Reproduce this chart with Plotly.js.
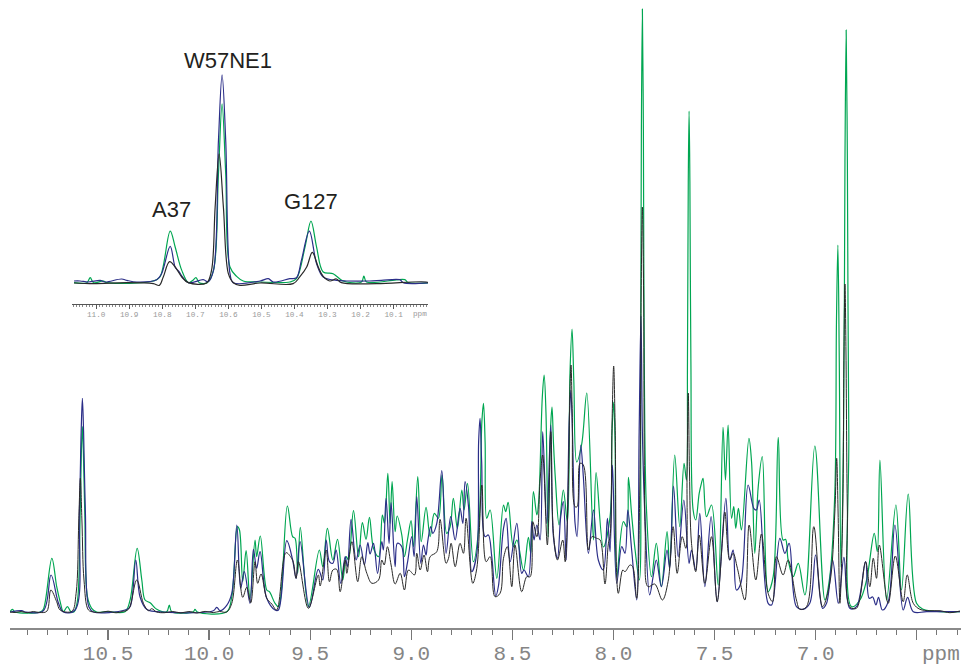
<!DOCTYPE html>
<html><head><meta charset="utf-8">
<script src="https://cdn.plot.ly/plotly-3.0.1.min.js"></script>
<style>html,body{margin:0;padding:0;background:#fff}</style></head>
<body><div id="chart" style="width:961px;height:666px"></div>
<script>
// [ppm, intensity]
const greenSpectrum=[[10.985,0],[10.973,2.7],[10.960,0],[10.836,0],[10.820,2.7],[10.778,53.7],[10.754,25.3],[10.737,10.3],[10.721,0.3],[10.701,5.3],[10.684,.3],[10.668,.3],[10.652,10.3],[10.638,98.7],[10.632,160],[10.627,185.3],[10.622,160],[10.615,98.7],[10.602,15.3],[10.581,3.7],[10.556,0],[10.506,.3],[10.416,.3],[10.391,12],[10.356,63.7],[10.333,32],[10.317,12],[10.292,9.3],[10.259,2.7],[10.210,.3],[10.197,7],[10.185,.3],[10.078,.3],[10.070,2.7],[10.058,0],[9.913,.3],[9.888,15.3],[9.860,85.3],[9.850,82],[9.834,30.3],[9.817,61.3],[9.798,13.7],[9.773,72],[9.765,55.3],[9.747,76],[9.715,22],[9.702,20.3],[9.674,8.7],[9.657,5.3],[9.613,106],[9.587,75.3],[9.575,73.7],[9.562,38.7],[9.549,84.7],[9.509,5.3],[9.455,62],
[9.438,45.3],[9.415,83.7],[9.388,52],[9.365,72.7],[9.339,32],[9.322,55.3],[9.311,52],[9.286,101.3],[9.261,55.3],[9.242,89.3],[9.224,72.7],[9.207,94.7],[9.187,63.7],[9.162,55.3],[9.143,97],[9.133,88.7],[9.116,138.7],[9.105,88.7],[9.095,130.3],[9.080,80.3],[9.070,96],[9.047,77],[9.034,55.3],[9.019,72],[9.001,91.3],[8.989,65.3],[8.968,135.3],[8.951,70.3],[8.927,104.7],[8.907,75.3],[8.886,98.7],[8.866,93.7],[8.848,137],[8.825,78.7],[8.808,85.3],[8.792,113.7],[8.772,83.7],[8.750,122],[8.739,102],[8.722,128.7],[8.693,50.3],[8.666,85.3],[8.651,190],[8.643,208.7],[8.635,170],[8.627,93.7],[8.610,102],[8.577,33.7],[8.544,107],[8.533,100.3],[8.521,109.7],[8.495,65.3],[8.478,72],[8.445,42],[8.421,74.7],[8.409,58.7],[8.396,120.3],[8.379,97],[8.370,110.3],[8.352,215],[8.343,237],[8.334,200],[8.323,75],[8.311,185],[8.304,205],[8.297,170],[8.287,132],[8.269,87],[8.248,122],[8.228,90],[8.215,240],[8.205,283],[8.196,230],[8.182,150],[8.157,168],[8.132,219],[8.099,72],[8.086,139.3],[8.050,65],[8.017,95],[8.007,180],[7.999,210],[7.992,170],[7.984,35],[7.951,90.3],[7.934,85],[7.926,134.7],[7.910,97],[7.893,62],[7.872,32],
[7.866,230],[7.862,480],[7.857,603],[7.852,480],[7.847,230],[7.837,103.7],[7.812,35.3],[7.788,68.7],[7.763,25.3],[7.735,80.3],[7.722,45.3],[7.697,157],[7.672,85.3],[7.651,148.7],[7.639,132],[7.634,250],[7.630,430],[7.626,501],[7.622,430],[7.617,250],[7.606,102],[7.593,92],[7.576,118.7],[7.565,128.7],[7.557,133.7],[7.540,95.3],[7.515,107],[7.482,27],[7.458,184.7],[7.446,132],[7.433,187],[7.416,93.7],[7.405,105.3],[7.395,83.7],[7.382,103.7],[7.367,82],[7.330,173.7],[7.317,150.3],[7.301,58.7],[7.284,125.3],[7.264,155.3],[7.235,20.3],[7.210,35.3],[7.185,174.7],[7.161,72],[7.149,72.7],[7.136,52],[7.111,35.3],[7.086,48.7],[7.053,17],[7.004,166],[6.954,12],[6.930,35.3],[6.905,120],[6.897,290],[6.890,367],[6.883,250],[6.875,45],[6.862,180],[6.855,450],[6.849,582],[6.843,450],[6.836,180],[6.822,5.3],[6.781,12],[6.748,32],[6.710,78.7],[6.695,60.3],[6.682,152],[6.649,12],[6.603,107],[6.575,22],[6.542,118],[6.501,8.7],[6.468,2.7],[6.385,.3],[6.286,.3]];
const blueSpectrum=[[10.985,0],[10.927,1.3],[10.910,0],[10.820,1.3],[10.782,37],[10.745,8.7],[10.721,0],[10.663,2],[10.642,98.7],[10.633,180],[10.627,213.7],[10.621,180],[10.612,98.7],[10.595,5.3],[10.572,0],[10.416,2],[10.391,5.3],[10.363,52],[10.342,15.3],[10.309,2.7],[10.259,.3],[9.979,1.3],[9.962,4.7],[9.946,1.3],[9.913,6.7],[9.888,18.7],[9.863,87],[9.844,23.7],[9.826,40.3],[9.798,8.7],[9.781,62.7],[9.765,43.7],[9.748,60.3],[9.715,13.7],[9.674,2],[9.657,2],[9.616,71.3],[9.587,52],[9.570,33.7],[9.550,70.3],[9.504,4.7],[9.460,42.7],
[9.438,32],[9.421,72],[9.405,50.3],[9.388,48.7],[9.372,62],[9.349,28.7],[9.327,55.3],[9.316,45.3],[9.298,92.7],[9.273,52],[9.253,67],[9.232,47],[9.215,69.3],[9.204,58],[9.187,68.7],[9.167,38.7],[9.146,70.3],[9.138,62],[9.125,113.7],[9.110,68.7],[9.100,109.3],[9.080,45.3],[9.069,68.7],[9.047,65.3],[9.034,35.3],[9.019,49.3],[8.998,75.3],[8.986,55.3],[8.973,115.3],[8.953,48.7],[8.940,67],[8.927,57],[8.920,68.7],[8.904,85.3],[8.894,78.7],[8.874,88.7],[8.849,141.3],[8.828,58.7],[8.805,95.3],[8.783,72],[8.759,103.7],[8.745,88.7],[8.734,130.3],[8.717,105.3],[8.701,40.3],[8.676,58.7],[8.667,170],[8.660,193.7],[8.652,150],[8.635,75.3],[8.619,77],[8.602,55.3],[8.582,16],[8.569,26],[8.544,83.7],[8.531,93.7],[8.511,50.3],[8.478,88.7],[8.454,38.7],[8.442,42],[8.421,35.3],[8.404,90.3],[8.393,72],[8.379,87],[8.363,72],[8.350,180.3],[8.330,88.7],[8.310,187],[8.297,75.3],[8.277,53.7],[8.261,95.3],[8.248,110.3],[8.234,52],[8.219,190],[8.211,222],[8.203,180],[8.190,88.7],[8.180,75.3],[8.162,167],[8.149,135.3],[8.124,58.7],[8.099,102],[8.075,52],[8.050,42],[8.030,93.7],[8.017,60.3],[8.005,147],[7.984,28.7],[7.959,65.3],[7.943,58.7],[7.929,102],[7.910,62],[7.885,12],
[7.873,180],[7.864,296],[7.857,180],[7.845,98.7],[7.821,17],[7.804,35.3],[7.788,52],[7.763,25.3],[7.735,62],[7.722,43.7],[7.703,126],[7.680,55.3],[7.652,112],[7.626,48.7],[7.614,62],[7.593,42],[7.573,98.7],[7.548,25.3],[7.517,95.3],[7.487,10.3],[7.444,113.7],[7.425,52],[7.408,62],[7.392,22],[7.370,28.7],[7.334,127],[7.306,103.7],[7.293,102],[7.279,112],[7.235,8.7],[7.218,7],[7.177,73.7],[7.152,58.7],[7.131,68.7],[7.095,5.3],[7.062,2.7],[7.029,8.7],[7.000,57],[6.966,3.7],[6.946,8.7],[6.916,52],[6.888,8.7],[6.860,54.7],[6.831,3.7],[6.798,5.3],[6.753,50.3],[6.735,13.7],[6.718,15],[6.702,7],[6.689,14.7],[6.670,2],[6.641,10.3],[6.608,87],[6.567,2],[6.545,14.7],[6.517,.3],[6.451,.3],[6.286,.3]];
const blackSpectrum=[[10.985,0],[10.96,-.5],[10.93,.5],[10.9,-.7],[10.87,.5],[10.84,-.5],[10.803,.7],[10.783,22],[10.754,10.3],[10.737,2],[10.679,.7],[10.658,18.7],[10.645,90],[10.637,133.7],[10.629,90],[10.619,32],[10.597,2],[10.572,0],[10.54,-.5],[10.5,.8],[10.46,-.8],[10.43,.5],[10.399,2.7],[10.358,32],[10.325,8.7],[10.300,1.3],[10.284,3.3],[10.259,0],[10.22,-.7],[10.18,.5],[10.14,-.9],[10.1,.5],[10.06,-1],[10.02,.6],[9.98,-.6],[9.95,.5],[9.913,0],[9.888,8.7],[9.860,52],[9.834,14.7],[9.814,24.7],[9.794,9.3],[9.773,50.3],[9.760,28.7],[9.743,38],[9.715,13.7],[9.690,8],[9.666,2],[9.620,59.3],[9.592,53.7],[9.583,49.3],[9.570,33.7],[9.558,50.3],[9.509,3.7],[9.460,37],[9.451,26],
[9.421,62],[9.405,30.3],[9.388,42],[9.369,42.7],[9.352,20.3],[9.327,52],[9.319,38.7],[9.294,70.3],[9.265,30.3],[9.245,55.3],[9.220,38.7],[9.195,28.7],[9.162,32],[9.146,52],[9.134,47],[9.118,65.3],[9.100,47],[9.080,28],[9.055,38.7],[9.034,22],[9.014,42],[8.984,37],[8.973,58.7],[8.956,42],[8.937,57],[8.920,40.3],[8.907,55.3],[8.874,60.3],[8.858,92.7],[8.828,48.7],[8.816,53.7],[8.803,68.7],[8.783,45.3],[8.759,68.7],[8.742,58.7],[8.729,93.7],[8.696,28.7],[8.676,43.7],[8.651,127],[8.630,50.3],[8.610,55.3],[8.586,15.3],[8.561,18.7],[8.544,53.7],[8.525,65.3],[8.503,25.3],[8.487,67],[8.454,20.3],[8.429,35.3],[8.412,35.3],[8.399,90.3],[8.379,75.3],[8.363,132],[8.350,157],[8.327,67],[8.310,180.3],[8.297,78.7],[8.277,52],[8.251,72],[8.239,50.3],[8.223,132],[8.216,215],[8.210,247],[8.204,200],[8.190,105.3],[8.180,105.3],[8.165,148.7],[8.149,147],[8.124,62],[8.107,75.3],[8.083,73.7],[8.066,72],[8.042,28],[8.025,68.7],[8.017,75.3],[8.007,190],[7.999,246],[7.992,190],[7.976,18.7],[7.954,42],[7.943,40.3],[7.918,47],[7.905,45.3],[7.885,13.7],
[7.870,120],[7.863,320],[7.857,405],[7.851,320],[7.843,80],[7.829,25.3],[7.796,28],[7.758,12],[7.730,30.3],[7.705,85.3],[7.685,38.7],[7.660,75.3],[7.642,63.7],[7.636,140],[7.630,219],[7.624,140],[7.614,68.7],[7.593,40.3],[7.576,77],[7.548,28.7],[7.515,75.3],[7.487,10.3],[7.461,72],[7.449,100],[7.425,52],[7.408,58.7],[7.387,43.7],[7.350,12],[7.329,87],[7.296,32],[7.268,78],[7.235,18.7],[7.213,10.3],[7.194,55.3],[7.161,37],[7.136,52],[7.095,12],[7.078,2.7],[7.045,5.3],[7.009,85.3],[6.966,5.3],[6.930,28.7],[6.905,100],[6.896,153.7],[6.889,100],[6.880,8.7],[6.866,100],[6.860,260],[6.855,328],[6.850,260],[6.843,100],[6.831,5.3],[6.798,3.7],[6.753,50.3],[6.732,25.3],[6.715,53.7],[6.699,33.7],[6.685,67],[6.641,8.7],[6.606,56],[6.567,10.3],[6.547,37],[6.517,8.7],[6.484,2.7],[6.435,1.3],[6.385,1.3],[6.336,-.7],[6.286,1]];
const greenInset=[[11.067,0],[11.028,0],[11.018,5],[11.008,0],[10.978,1.7],[10.968,0],[10.827,1.7],[10.807,5.7],[10.776,51.7],[10.761,35.7],[10.741,12.3],[10.721,0],[10.708,2.3],[10.698,5],[10.688,0],[10.664,0],[10.645,12.3],[10.630,109],[10.619,179],[10.608,109],[10.595,15.7],[10.575,6.3],[10.555,1.7],[10.504,.7],[10.414,.7],[10.394,4],[10.368,35.7],[10.350,61.7],[10.333,35.7],[10.313,10.7],[10.283,9],[10.253,1.7],[10.197,.7],[10.190,6.7],[10.182,.7],[10.066,3],[10.056,0],[9.991,0]];
const blueInset=[[11.067,1.7],[11.049,1.7],[11.023,.7],[10.988,2.3],[10.973,.7],[10.923,3.7],[10.907,2.3],[10.877,.7],[10.817,3],[10.802,9],[10.776,36.3],[10.761,15.7],[10.751,11.7],[10.721,0],[10.676,3],[10.661,1],[10.645,12.3],[10.630,142.3],[10.619,208],[10.608,142.3],[10.595,9],[10.585,0],[10.504,1.7],[10.479,4],[10.464,.7],[10.414,4],[10.394,5],[10.379,22.3],[10.355,51.7],[10.333,19],[10.313,5.7],[10.273,2.3],[10.242,1.7],[10.172,1.7],[10.137,2.3],[10.081,3],[10.071,0],[9.991,0]];
const blackInset=[[11.067,-.3],[11.008,-1],[10.907,0],[10.827,-1],[10.809,-2.7],[10.797,5.7],[10.778,21],[10.761,15.7],[10.741,5.7],[10.721,0],[10.666,-.3],[10.651,12.3],[10.640,75.7],[10.628,129],[10.615,75.7],[10.600,9],[10.585,0],[10.565,-2.7],[10.504,-.3],[10.404,-1],[10.384,5.7],[10.363,15.7],[10.346,30.3],[10.328,15.7],[10.313,6.3],[10.293,1.7],[10.273,3.7],[10.258,0],[10.151,-1],[10.001,.7],[9.986,-1]];
const mainTicks=[10.5,10,9.5,9,8.5,8,7.5,7,6.5];
const mainLabels=['10.5','10.0','9.5','9.0','8.5','8.0','7.5','7.0',''];
const insetTicks=[11,10.9,10.8,10.7,10.6,10.5,10.4,10.3,10.2,10.1];
const insetLabels=['11.0','10.9','10.8','10.7','10.6','10.5','10.4','10.3','10.2','10.1'];
const GREEN='#00a651',BLUE='#2b2e88',BLACK='#2a2a2a';
function tr(d,c,w,xa,ya){return {x:d.map(p=>p[0]),y:d.map(p=>p[1]),type:'scatter',mode:'lines',
 line:{color:c,width:w,shape:'spline',smoothing:1.0},xaxis:xa,yaxis:ya,hoverinfo:'skip',showlegend:false};}
const data=[tr(greenSpectrum,GREEN,1.2,'x','y'),tr(blueSpectrum,BLUE,1.2,'x','y'),tr(blackSpectrum,BLACK,1,'x','y'),
 tr(greenInset,GREEN,1.2,'x2','y2'),tr(blueInset,BLUE,1.2,'x2','y2'),tr(blackInset,BLACK,1.2,'x2','y2')];
const lab={family:'"Liberation Sans",Arial,sans-serif',size:22,color:'#231f20'};
const layout={width:961,height:666,margin:{l:10,r:0,t:0,b:38,pad:0},paper_bgcolor:'#fff',plot_bgcolor:'rgba(0,0,0,0)',showlegend:false,
 xaxis:{range:[10.985,6.281],domain:[0,1],anchor:'y',showgrid:false,zeroline:false,showline:true,linecolor:'#8a8a8a',linewidth:2,
  tickmode:'array',tickvals:mainTicks,ticktext:mainLabels,ticks:'outside',ticklen:10,tickwidth:1.3,tickcolor:'#777',ticklabelstandoff:-5,
  tickfont:{family:'"Liberation Mono",monospace',size:21,color:'#858585'},
  minor:{dtick:0.1,tick0:0,ticks:'outside',ticklen:5,tickwidth:1,tickcolor:'#777',showgrid:false}},
 yaxis:{range:[-16,612],domain:[0,1],anchor:'x',visible:false,fixedrange:true},
 xaxis2:{range:[11.074,9.996],domain:[0.0649,0.4395],anchor:'y2',showgrid:false,zeroline:false,showline:true,linecolor:'#555',linewidth:1,
  tickmode:'array',tickvals:insetTicks,ticktext:insetLabels,ticks:'outside',ticklen:4,tickwidth:1,tickcolor:'#555',ticklabelstandoff:-1,
  tickfont:{family:'"Liberation Mono",monospace',size:7.7,color:'#999'},
  minor:{dtick:0.01,tick0:0,ticks:'outside',ticklen:2,tickwidth:.7,tickcolor:'#555',showgrid:false}},
 yaxis2:{range:[-21.3,222.7],domain:[0.516,0.904],anchor:'x2',visible:false,fixedrange:true},
 annotations:[
  {text:'W57NE1',xref:'x2',yref:'y2',x:10.601,y:222.7,showarrow:false,font:lab,xanchor:'center',yanchor:'middle'},
  {text:'A37',xref:'x2',yref:'y2',x:10.773,y:73.7,showarrow:false,font:lab,xanchor:'center',yanchor:'middle'},
  {text:'G127',xref:'x2',yref:'y2',x:10.351,y:81.7,showarrow:false,font:lab,xanchor:'center',yanchor:'middle'},
  {text:'ppm',xref:'paper',yref:'paper',x:0.979,y:-0.0415,showarrow:false,xanchor:'center',yanchor:'middle',font:{family:'"Liberation Mono",monospace',size:21,color:'#858585'}},
  {text:'ppm',xref:'paper',yref:'paper',x:0.4315,y:0.5,yanchor:'middle',xanchor:'center',showarrow:false,font:{family:'"Liberation Mono",monospace',size:7.7,color:'#999'}}
 ]};
Plotly.newPlot('chart',data,layout,{displayModeBar:false,staticPlot:true});
</script></body></html>
